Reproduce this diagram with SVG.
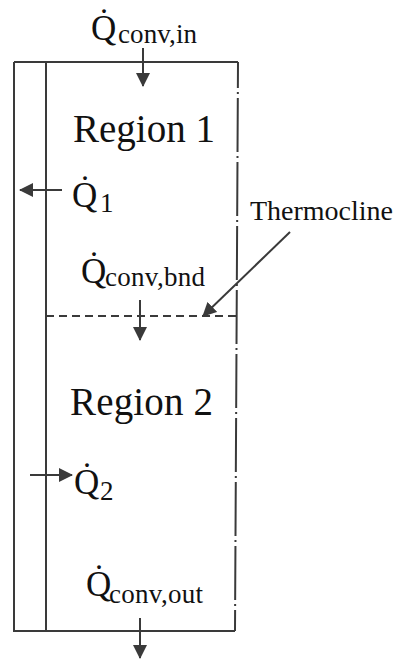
<svg xmlns="http://www.w3.org/2000/svg" width="395" height="665" viewBox="0 0 395 665">
<style>
.ln{stroke:#3a3a3a;stroke-width:2;fill:none}
text{fill:#111}
</style>
<defs>
<marker id="ah" viewBox="0 0 14 14" refX="13" refY="7" markerWidth="14" markerHeight="14" markerUnits="userSpaceOnUse" orient="auto">
<path d="M0,0 L14,7 L0,14 Z" fill="#3a3a3a"/>
</marker>
</defs>
<g id="tank">
<path class="ln" d="M14,62 H238 M14,62 V631 H235 M46,62 V631"/>
<path class="ln" d="M238,62 L235,631" stroke-dasharray="54 4 2 4" stroke-dashoffset="28"/>
<path class="ln" d="M46,316 H237" stroke-dasharray="8 5"/>
</g>
<g font-family="'Liberation Serif', 'Times New Roman', Times, serif">
<g id="region1"><text font-size="39" x="73" y="142" textLength="142">Region 1</text></g>
<g id="region2"><text font-size="39" x="70" y="415" textLength="143">Region 2</text></g>
<g id="thermocline-label"><text font-size="28" x="250" y="220" textLength="143">Thermocline</text></g>
<g id="q-conv-in"><text font-size="35" x="91" y="40">Q̇</text><text font-size="27" x="118" y="43" textLength="79">conv,in</text></g>
<g id="q1"><text font-size="35" x="72" y="207">Q̇</text><text font-size="27" x="100" y="212">1</text></g>
<g id="q-conv-bnd"><text font-size="35" x="81" y="283">Q̇</text><text font-size="27" x="105" y="286" textLength="100">conv,bnd</text></g>
<g id="q2"><text font-size="35" x="74" y="494">Q̇</text><text font-size="27" x="100" y="500">2</text></g>
<g id="q-conv-out"><text font-size="35" x="86" y="596">Q̇</text><text font-size="27" x="109" y="603" textLength="94">conv,out</text></g>
</g>
<g id="connectors">
<line class="ln" x1="143" y1="48" x2="143" y2="86" marker-end="url(#ah)"/>
<line class="ln" x1="62" y1="190" x2="20" y2="190" marker-end="url(#ah)"/>
<line class="ln" x1="290" y1="232" x2="203" y2="316" marker-end="url(#ah)"/>
<line class="ln" x1="140" y1="300" x2="140" y2="340" marker-end="url(#ah)"/>
<line class="ln" x1="30" y1="475" x2="72" y2="475" marker-end="url(#ah)"/>
<line class="ln" x1="140" y1="618" x2="140" y2="658" marker-end="url(#ah)"/>
</g>
</svg>
